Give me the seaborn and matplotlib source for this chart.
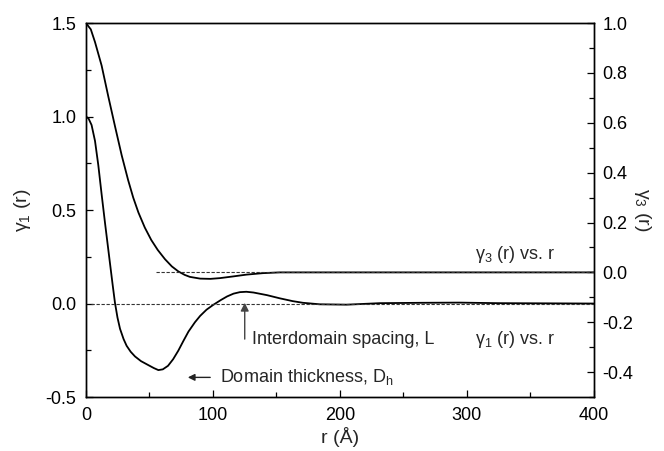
import matplotlib
matplotlib.use("Agg")
import matplotlib.pyplot as plt
import seaborn as sns
import pandas as pd
from matplotlib.ticker import MultipleLocator

sns.set_theme(style="ticks")
plt.rcParams['font.family'] = ['Liberation Sans', 'DejaVu Sans']
plt.rcParams['mathtext.fontset'] = 'custom'
plt.rcParams['mathtext.rm'] = 'Liberation Sans'
plt.rcParams['mathtext.it'] = 'Liberation Sans'

# gamma_1(r) (left axis)
r1 = [0, 2, 4.4, 7.1, 9.7, 12.3, 15, 18.9, 21, 22.8, 24.8, 26.8, 29.6, 32, 35.2, 38.6,
      43.3, 49, 53.4, 57, 60.5, 64.6, 68.6, 72.7, 76.7, 80.7, 85.8, 89.9, 94.9, 100, 106,
      111.1, 116.2, 121.2, 126.3, 131.9, 142.5, 152.6, 162.7, 170.8, 184, 205.2, 231.5,
      264, 294, 324.6, 365, 400]
g1 = [1.0, 0.99, 0.955, 0.87, 0.74, 0.585, 0.43, 0.215, 0.1, 0.005, -0.075, -0.135,
      -0.19, -0.226, -0.258, -0.283, -0.308, -0.329, -0.345, -0.356, -0.352, -0.333,
      -0.298, -0.252, -0.2, -0.15, -0.1, -0.066, -0.033, -0.008, 0.018, 0.038, 0.053,
      0.061, 0.063, 0.059, 0.045, 0.028, 0.013, 0.004, -0.004, -0.006, 0.002, 0.004,
      0.005, 0.002, 0.001, 0.0]

# gamma_3(r) (right axis)
r3 = [0, 3.8, 7.1, 12.3, 17.6, 22.9, 28.1, 33.2, 37.2, 41.3, 46.3, 51.4, 56.5, 62.2,
      67.6, 72.7, 77.7, 81.8, 89.9, 98, 105.5, 116.2, 126.3, 139.4, 152.6, 203, 304, 400]
g3 = [1.0, 0.975, 0.924, 0.83, 0.705, 0.585, 0.47, 0.37, 0.30, 0.24, 0.18, 0.13, 0.09,
      0.053, 0.024, 0.004, -0.010, -0.018, -0.025, -0.026, -0.023, -0.016, -0.009,
      -0.003, 0.0, 0.0, 0.0, 0.0]

xticks = [0, 100, 200, 300, 400]
df1 = pd.DataFrame({"r": r1, "g": g1})
df3 = pd.DataFrame({"r": r3, "g": g3})

fig = plt.figure(figsize=(6.64, 4.51), dpi=100)
ax = fig.add_axes([0.1295, 0.1197, 0.765, 0.829])
ax2 = ax.twinx()

sns.lineplot(data=df1, x="r", y="g", ax=ax, color="black", lw=1.3)
sns.lineplot(data=df3, x="r", y="g", ax=ax2, color="black", lw=1.3)

ax.axhline(0, xmin=0.01, xmax=1, color="#333333", lw=0.8, ls=(0, (3, 1.5)))
ax2.hlines(0, 55, 400, color="#333333", lw=0.8, ls=(0, (3, 1.5)))

ax.set_xlim(0, 400)
ax.set_ylim(-0.5, 1.5)
ax2.set_ylim(-0.5, 1.0)
ax.set_xticks(xticks)
ax.xaxis.set_minor_locator(MultipleLocator(50))
ax.yaxis.set_major_locator(MultipleLocator(0.5))
ax.yaxis.set_minor_locator(MultipleLocator(0.25))
ax2.yaxis.set_major_locator(MultipleLocator(0.2))
ax2.yaxis.set_minor_locator(MultipleLocator(0.1))
ax.yaxis.set_major_formatter(plt.FuncFormatter(lambda v, p: f"{v:.1f}"))
ax2.yaxis.set_major_formatter(plt.FuncFormatter(lambda v, p: f"{v:.1f}"))

for a in (ax, ax2):
    a.tick_params(which="both", direction="in", labelsize=13, colors="black", width=0.9)
    a.tick_params(which="major", length=5)
    a.tick_params(which="minor", length=3.5)
    for s in a.spines.values():
        s.set_color("black")
        s.set_linewidth(1.0)
ax.tick_params(axis="y", pad=7)
ax.tick_params(axis="x", pad=7)
ax2.tick_params(axis="y", pad=6)

ax.set_xlabel("r (Å)", fontsize=14, labelpad=2)
ax.set_ylabel(r"$\gamma_1$ (r)", fontsize=14, labelpad=9)
ax2.set_ylabel(r"$\gamma_3$ (r)", fontsize=14, rotation=270, labelpad=14)

ax.text(306, 0.265, r"$\gamma_3$ (r) vs. r", fontsize=13, va="center", ha="left")
ax.text(306, -0.195, r"$\gamma_1$ (r) vs. r", fontsize=13, va="center", ha="left")
ax.annotate("", xy=(125, 0.019), xytext=(125, -0.205),
            arrowprops=dict(arrowstyle="-|>", color="#444444", lw=1.0, mutation_scale=12))
ax.text(130.5, -0.195, "Interdomain spacing, L", fontsize=13, va="center", ha="left")
ax.annotate("", xy=(78, -0.395), xytext=(100, -0.395),
            arrowprops=dict(arrowstyle="-|>", color="#222222", lw=1.0, mutation_scale=10))
ax.text(105.5, -0.395, r"Domain thickness, D$_\mathregular{h}$", fontsize=13, va="center", ha="left")

fig.savefig("out.png", dpi=100)
